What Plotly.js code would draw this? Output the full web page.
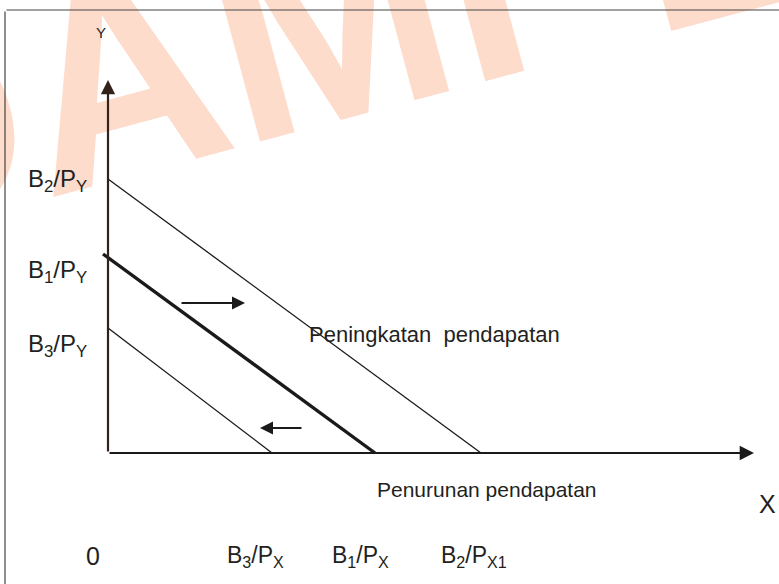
<!DOCTYPE html>
<html><head><meta charset="utf-8">
<script src="https://cdn.plot.ly/plotly-3.0.1.min.js"></script>
<style>html,body{margin:0;padding:0;background:#fff}</style>
</head><body><div id="chart" style="width:779px;height:584px"></div>
<script>
// ---- data (units: origin at the axis corner) ----
const lineNames   = ['B2', 'B1', 'B3'];
const lineStartX  = [0, -5, 0];
const lineStartY  = [274, 199, 125];
const xIntercepts = [373, 267, 164];
const yAxisLabels = ['B<sub>2</sub>/P<sub>Y</sub>', 'B<sub>1</sub>/P<sub>Y</sub>', 'B<sub>3</sub>/P<sub>Y</sub>'];
const xAxisLabels = ['B<sub>2</sub>/P<sub>X1</sub>', 'B<sub>1</sub>/P<sub>X</sub>', 'B<sub>3</sub>/P<sub>X</sub>'];
const originLabel = '0';
const axisNames   = ['X', 'Y'];
const shiftLabels = ['Peningkatan  pendapatan', 'Penurunan pendapatan'];
const watermarkText = ['DAMI', 'E'];

// ---- styles / layout ----
const FONT = 'Liberation Sans, Arial, sans-serif';
const TXT = '#231f20';
const INK = '#1a1a1a';
const WM = '#fddccc';

const traces = lineNames.map((n, i) => ({
  type: 'scatter', mode: 'lines', name: n,
  x: [lineStartX[i], xIntercepts[i]],
  y: [lineStartY[i], 0],
  line: { color: INK, width: i === 1 ? 3.4 : 1.3 },
  hoverinfo: 'skip'
}));

const ann = [];
// watermark (drawn first, so everything else lies on top)
ann.push({ xref: 'paper', yref: 'paper', x: 171.1 / 779, y: 1 - 65.1 / 584, xanchor: 'center', yanchor: 'middle',
  text: watermarkText[0], showarrow: false, textangle: -15,
  font: { family: FONT, size: 280, color: WM, weight: 'bold' } });
ann.push({ xref: 'paper', yref: 'paper', x: 718.3 / 779, y: 1 + 81.6 / 584, xanchor: 'center', yanchor: 'middle',
  text: watermarkText[1], showarrow: false, textangle: -15,
  font: { family: FONT, size: 280, color: WM, weight: 'bold' } });

function seg(x0, y0, x1, y1, color, width, head, size) {
  return { xref: 'x', yref: 'y', axref: 'x', ayref: 'y', x: x1, y: y1, ax: x0, ay: y0,
    text: '', showarrow: true, arrowhead: head, arrowsize: size || 1, arrowwidth: width,
    arrowcolor: color, standoff: 0, startstandoff: 0 };
}
// frame
ann.push(seg(-103, 443, 671, 443, '#444', 1.2, 0));
ann.push(seg(-103, 443, -103, -131, '#444', 1.2, 0));
// axes with arrow heads
ann.push(seg(0, 0, 0, 373, '#33221b', 2.2, 2, 1.3));
ann.push(seg(0, 0, 646, 0, INK, 2.2, 2, 1.3));
// shift arrows
ann.push(seg(72, 150, 137, 150, INK, 2, 2, 1.3));
ann.push(seg(195, 25, 152, 25, INK, 2, 2, 1.3));

function txt(x, y, t, size, xanchor) {
  return { xref: 'x', yref: 'y', x: x, y: y, text: t, showarrow: false,
    xanchor: xanchor || 'center', yanchor: 'middle',
    font: { family: FONT, size: size, color: TXT } };
}
// axis names
ann.push(txt(-7, 421, axisNames[1], 15));
ann.push(txt(659, -51, axisNames[0], 25));
// y labels
const yLabelY = [273, 182, 108];
yAxisLabels.forEach((t, i) => ann.push(txt(-82, yLabelY[i], t, 24, 'left')));
// x labels
const xLabelX = [366, 252, 147];
xAxisLabels.forEach((t, i) => ann.push(txt(xLabelX[i], -103, t, 23)));
ann.push(txt(-15, -103, originLabel, 25));
// shift labels
ann.push(txt(326, 119, shiftLabels[0], 22));
ann.push(txt(379, -36, shiftLabels[1], 21));

const layout = {
  width: 779, height: 584,
  margin: { l: 0, r: 0, t: 0, b: 0, pad: 0 },
  paper_bgcolor: '#fff', plot_bgcolor: '#fff',
  showlegend: false,
  xaxis: { range: [-108, 671], visible: false, fixedrange: true },
  yaxis: { range: [-131, 453], visible: false, fixedrange: true },
  annotations: ann
};
Plotly.newPlot('chart', traces, layout, { staticPlot: true, displayModeBar: false });
</script></body></html>
